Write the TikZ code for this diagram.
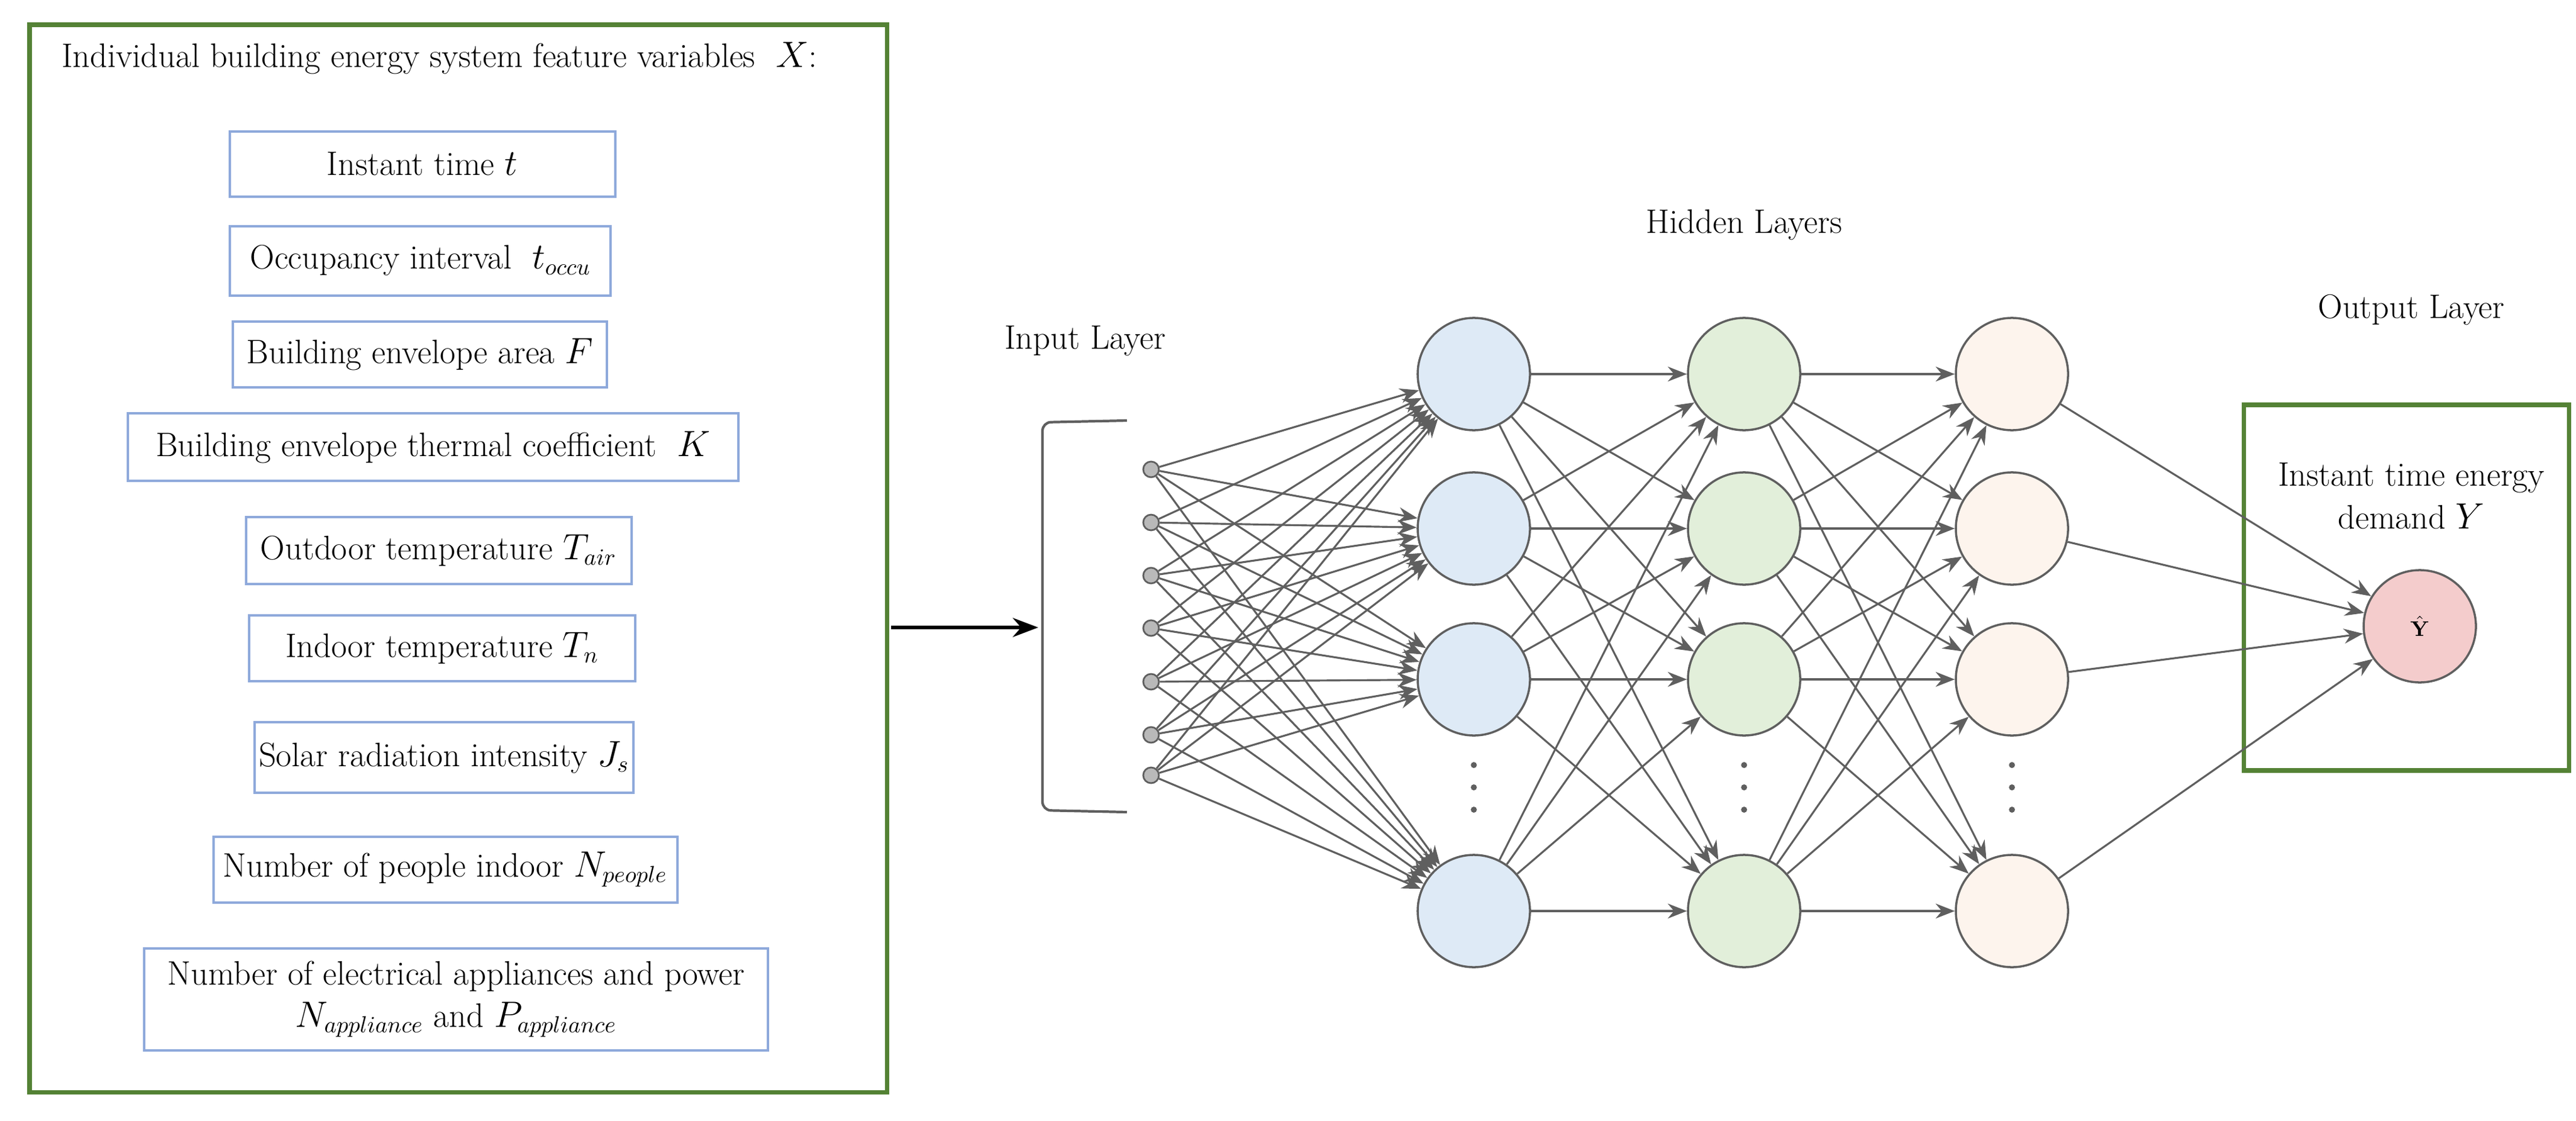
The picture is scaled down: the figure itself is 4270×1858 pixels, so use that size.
\documentclass[tikz,border=0pt]{standalone}
\usepackage{amsmath}
\usetikzlibrary{arrows.meta}
\definecolor{framegreen}{RGB}{84,130,53}
\definecolor{featblue}{RGB}{142,169,219}
\definecolor{edgegray}{RGB}{95,95,95}
\definecolor{hblue}{RGB}{222,234,246}
\definecolor{hgreen}{RGB}{226,239,218}
\definecolor{hpeach}{RGB}{253,244,237}
\definecolor{outpink}{RGB}{244,204,204}
\tikzset{
	feat/.style={draw=featblue, line width=1.2pt},
	neuron/.style={circle, draw=edgegray, line width=1pt, minimum size=1.86cm},
	dot/.style={circle, draw=edgegray, fill=gray!55, line width=0.8pt, inner sep=0pt, minimum size=0.26cm},
	link/.style={draw=edgegray, line width=0.9pt, -{Stealth[length=9pt,width=7pt]}},
	txt/.style={font=\fontsize{16}{20}\selectfont, align=center}
}
\begin{document}
\begin{tikzpicture}[x=0.01cm, y=-0.01cm]
	\useasboundingbox (0,0) rectangle (4270,1858);
	
	% feature variables X
	\draw[framegreen, line width=2pt] (49,41) rectangle (1470,1810);
	\node[txt, anchor=base west] (title) at (90,112) {Individual building energy system feature variables~ $X$:};
	\draw[feat] (381,218) rectangle (1020,326);  \node[txt] (f1) at (700,272) {Instant time $t$};
	\draw[feat] (381,375) rectangle (1012,490);  \node[txt] (f2) at (697,432) {Occupancy interval~ $t_{occu}$};
	\draw[feat] (386,533) rectangle (1006,642);  \node[txt] (f3) at (696,587) {Building envelope area $F$};
	\draw[feat] (212,685) rectangle (1224,797);  \node[txt] (f4) at (718,741) {Building envelope thermal coefficient~ $K$};
	\draw[feat] (408,857) rectangle (1047,968);  \node[txt] (f5) at (727,912) {Outdoor temperature $T_{air}$};
	\draw[feat] (413,1020) rectangle (1053,1129);\node[txt] (f6) at (733,1074) {Indoor temperature $T_n$};
	\draw[feat] (422,1197) rectangle (1050,1314);\node[txt] (f7) at (736,1255) {Solar radiation intensity $J_s$};
	\draw[feat] (354,1387) rectangle (1123,1496);\node[txt] (f8) at (738,1441) {Number of people indoor $N_{people}$};
	\draw[feat] (239,1572) rectangle (1273,1741);\node[txt] (f9) at (756,1656) {Number of electrical appliances and power\\$N_{appliance}$ and $P_{appliance}$};
	
	% input layer
	\coordinate (src) at (1477,1040);
	\coordinate (brk) at (1721,1040);
	\draw[line width=1.6pt, -{Stealth[length=12pt,width=9pt]}] (src) -- (brk);
	\draw[edgegray, line width=1.2pt, rounded corners=4pt] (1868,697) -- (1728,700) -- (1728,1343) -- (1868,1346);
	\node[txt] (inlab) at (1799,565) {Input Layer};
	\foreach \i/\y in {1/778,2/866,3/954,4/1041,5/1130,6/1218,7/1285}
		\node[dot] (in\i) at (1908,\y) {};
	
	% hidden layers
	\node[txt] (hidlab) at (2891,373) {Hidden Layers};
	\foreach \l/\x/\c in {1/2443/hblue,2/2891/hgreen,3/3335/hpeach}{
		\foreach \j/\y in {1/620,2/876,3/1126,4/1510}
			\node[neuron, fill=\c] (h\l-\j) at (\x,\y) {};
		\foreach \d in {1268,1305,1342}
			\fill[edgegray] (\x,\d) circle (5);
	}
	
	% output layer
	\draw[framegreen, line width=2pt] (3719,671) rectangle (4258,1277);
	\node[txt] (outlab) at (3997,514) {Output Layer};
	\node[txt] (ylab) at (3997,822) {Instant time energy\\demand $Y$};
	\node[neuron, fill=outpink] (out) at (4011,1038) {$\hat{\mathbf{Y}}$};
	
	% connections
	\foreach \i in {1,...,7}
		\foreach \j in {1,...,4}
			\draw[link] (in\i) -- (h1-\j);
	\foreach \i in {1,...,4}
		\foreach \j in {1,...,4}{
			\draw[link] (h1-\i) -- (h2-\j);
			\draw[link] (h2-\i) -- (h3-\j);
		}
	\foreach \i in {1,...,4}
		\draw[link] (h3-\i) -- (out);
\end{tikzpicture}
\end{document}
